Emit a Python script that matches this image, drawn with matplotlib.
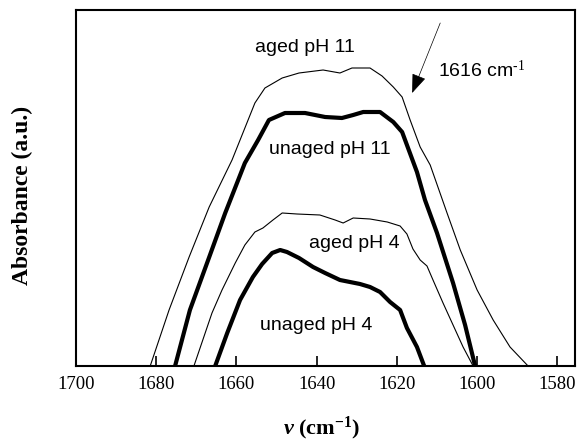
import matplotlib
matplotlib.use("Agg")
import matplotlib.pyplot as plt

# FTIR amide I band, absorbance in arbitrary units
wn_aged11 = [1681.5, 1676.8, 1671.8, 1666.8, 1661.1, 1655.4, 1652.9, 1648.6, 1644.4,
             1638.4, 1634.2, 1631.2, 1626.7, 1623.7, 1620.9, 1618.7, 1616.7, 1614.2,
             1611.7, 1607.5, 1604.2, 1600.0, 1596.0, 1591.8, 1587.3]
abs_aged11 = [0.000, 0.056, 0.109, 0.159, 0.206, 0.263, 0.278, 0.288, 0.293,
              0.296, 0.293, 0.298, 0.298, 0.290, 0.279, 0.269, 0.246, 0.219,
              0.201, 0.153, 0.116, 0.076, 0.046, 0.019, 0.000]

wn_unaged11 = [1675.3, 1671.6, 1668.6, 1666.6, 1662.8, 1657.9, 1654.6, 1651.9, 1647.9,
               1642.9, 1637.9, 1633.7, 1630.9, 1628.4, 1624.2, 1620.9, 1618.7, 1617.5,
               1615.0, 1613.0, 1610.0, 1606.0, 1603.0, 1600.5]
abs_unaged11 = [0.000, 0.056, 0.089, 0.111, 0.153, 0.203, 0.226, 0.246, 0.253,
                0.253, 0.249, 0.248, 0.251, 0.254, 0.254, 0.244, 0.234, 0.221,
                0.194, 0.166, 0.133, 0.083, 0.041, 0.000]

wn_aged4 = [1670.6, 1666.1, 1663.6, 1660.3, 1657.9, 1655.4, 1653.4, 1650.9, 1648.6,
            1644.9, 1639.2, 1635.4, 1633.4, 1630.9, 1626.7, 1622.4, 1619.2, 1617.5,
            1616.0, 1614.2, 1612.5, 1611.0, 1608.5, 1606.0, 1603.5, 1601.0]
abs_aged4 = [0.000, 0.053, 0.076, 0.103, 0.121, 0.134, 0.138, 0.146, 0.153,
             0.152, 0.151, 0.146, 0.143, 0.148, 0.147, 0.144, 0.140, 0.132,
             0.117, 0.106, 0.100, 0.086, 0.063, 0.041, 0.019, 0.000]

wn_unaged4 = [1665.3, 1662.3, 1659.1, 1655.9, 1653.6, 1651.1, 1649.1, 1647.4, 1644.4,
              1640.9, 1637.9, 1634.2, 1631.7, 1629.2, 1626.7, 1624.2, 1621.7, 1619.2,
              1617.5, 1615.0, 1613.2]
abs_unaged4 = [0.000, 0.033, 0.066, 0.089, 0.102, 0.113, 0.116, 0.114, 0.108,
               0.099, 0.093, 0.086, 0.084, 0.082, 0.079, 0.074, 0.064, 0.056,
               0.038, 0.019, 0.000]

x_ticks = [1700, 1680, 1660, 1640, 1620, 1600, 1580]

plt.rcParams["mathtext.fontset"] = "custom"
plt.rcParams["mathtext.rm"] = "Liberation Serif"
plt.rcParams["mathtext.bf"] = "Liberation Serif:bold"
plt.rcParams["mathtext.it"] = "Liberation Serif:italic"
plt.rcParams["mathtext.bfit"] = "Liberation Serif:bold:italic"

fig = plt.figure(figsize=(5.79, 4.43), dpi=100)
ax = fig.add_axes([76 / 579, 77 / 443, 499 / 579, 356 / 443])

thin = dict(color="black", lw=0.8, solid_joinstyle="round")
thick = dict(color="black", lw=3.0, solid_joinstyle="round", solid_capstyle="butt")
ax.plot(wn_aged11, abs_aged11, **thin)
ax.plot(wn_unaged11, abs_unaged11, **thick)
ax.plot(wn_aged4, abs_aged4, **thin)
ax.plot(wn_unaged4, abs_unaged4, **thick)

ax.set_xlim(1700, 1575.6)
ax.set_ylim(0, 0.356)
ax.set_xticks(x_ticks)
ax.set_xticklabels([str(t) for t in x_ticks], family="Liberation Serif", fontsize=13.5)
ax.set_yticks([])
ax.tick_params(axis="x", direction="in", length=7, width=1.2, pad=7)
for s in ax.spines.values():
    s.set_linewidth(1.5)

lab = dict(family="Liberation Sans", fontsize=14, ha="center", va="center")
ax.text(1642.9, 0.318, "aged pH 11", **lab)
ax.text(1636.7, 0.216, "unaged pH 11", **lab)
ax.text(1630.7, 0.122, "aged pH 4", **lab)
ax.text(1640.1, 0.041, "unaged pH 4", **lab)

ax.annotate("", xy=(1616.2, 0.273), xytext=(1609.2, 0.343),
            arrowprops=dict(arrowstyle="-|>,head_length=1.2,head_width=0.45",
                            color="black", lw=0.5, shrinkA=0, shrinkB=0))
ax.text(1609.7, 0.296, r"1616 cm$^{\text{-1}}$", family="Liberation Sans", fontsize=14,
        ha="left", va="center")

fig.text(22 / 579, 1 - 195 / 443, "Absorbance (a.u.)", family="Liberation Serif",
         fontweight="bold", fontsize=17, rotation=90, ha="center", va="center")
fig.text(322 / 579, 1 - 428 / 443, r"$\mathbfit{\nu}$ (cm$^{\mathbf{-1}}$)",
         family="Liberation Serif", fontweight="bold", fontsize=16,
         ha="center", va="center")

fig.savefig("out.png", dpi=100)
